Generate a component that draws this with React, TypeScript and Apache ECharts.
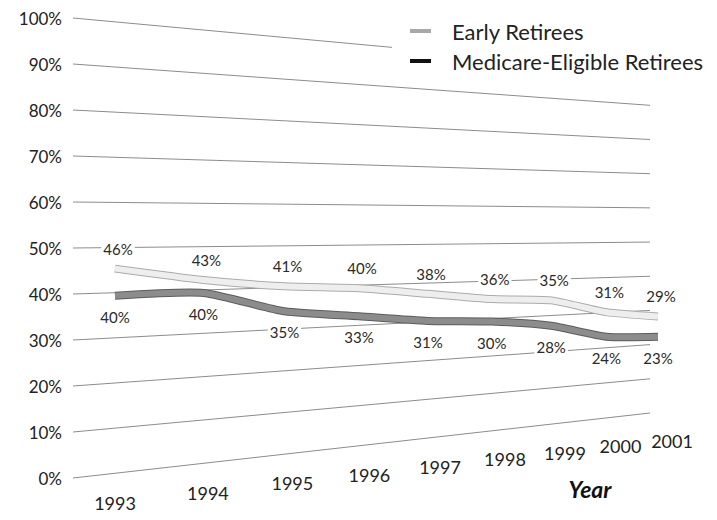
import React, { useEffect, useRef } from 'react';
import * as echarts from 'echarts';

const years = ['1993', '1994', '1995', '1996', '1997', '1998', '1999', '2000', '2001'];
const earlyRetirees = [46, 43, 41, 40, 38, 36, 35, 31, 29];
const medicareEligible = [40, 40, 35, 33, 31, 30, 28, 24, 23];
const yTicks = [0, 10, 20, 30, 40, 50, 60, 70, 80, 90, 100];

const FONT = 'Lato, "Open Sans", "DejaVu Sans", sans-serif';
const X_MIN = -0.45;
const X_MAX = 7.84;
const GRID = { left: 73, top: 18, width: 577, height: 460 };

// perspective helpers (the flat cartesian grid is seen in perspective, receding to the right)
function uFromFlat(fx: number) {
  const t = (fx - GRID.left) / GRID.width;
  return (X_MIN + t * (X_MAX - X_MIN)) / (years.length - 1);
}
function projX(u: number, x0: number, a: number, k: number) {
  return (x0 + a * u) / (1 + k * u);
}
function projY(sx: number, fy: number, fy0: number) {
  const d = sx - GRID.left;
  return fy0 - 0.11265 * d - (fy0 - fy) * (1 - 0.000445 * d);
}
const DATA_P = [115, 780.5, 0.361];
const LABEL_P = [115, 826.5, 0.401];

function makeLineSeries(
  name: string,
  values: number[],
  legendColor: string,
  outer: string,
  inner: string,
  labelDy: number,
  labelDx: number
) {
  const pts: number[][] = [];
  return {
    type: 'custom',
    name,
    coordinateSystem: 'cartesian2d',
    clip: false,
    z: 3,
    itemStyle: { color: legendColor },
    data: values.map((v, i) => [i, v]),
    renderItem: (params: any, api: any) => {
      const i = params.dataIndex;
      const p = api.coord([api.value(0), api.value(1)]);
      const fy0 = api.coord([0, 0])[1];
      const sx = projX(uFromFlat(p[0]), DATA_P[0], DATA_P[1], DATA_P[2]);
      const sy = projY(sx, p[1], fy0) + 3;
      pts[i] = [sx, sy];
      const children: any[] = [
        {
          type: 'text',
          x: sx + labelDx,
          y: sy + labelDy,
          z2: 10,
          style: {
            text: api.value(1) + '%',
            fill: '#2a2a2a',
            fontSize: 15,
            fontFamily: FONT,
            align: 'center',
            verticalAlign: 'middle',
            backgroundColor: '#fff',
            padding: [0, 2],
          },
        },
      ];
      if (i === values.length - 1) {
        const line = pts.slice(0, values.length);
        children.unshift(
          {
            type: 'polyline',
            shape: { points: line, smooth: 0.2 },
            style: { stroke: outer, lineWidth: 8, fill: null, lineCap: 'butt' },
          },
          {
            type: 'polyline',
            shape: { points: line, smooth: 0.2 },
            style: { stroke: inner, lineWidth: 6, fill: null, lineCap: 'butt' },
          }
        );
      }
      return { type: 'group', children };
    },
  };
}

export default function App() {
  const ref = useRef<HTMLDivElement>(null);
  useEffect(() => {
    if (!ref.current) return;
    const chart = echarts.init(ref.current, undefined, { renderer: 'svg' });
    chart.setOption({
      animation: false,
      backgroundColor: '#fff',
      grid: { left: GRID.left, top: GRID.top, width: GRID.width, height: GRID.height },
      xAxis: { type: 'value', min: X_MIN, max: X_MAX, show: false },
      yAxis: {
        type: 'value',
        min: 0,
        max: 100,
        interval: 10,
        axisLine: { show: false },
        axisTick: { show: false },
        splitLine: { show: false },
        axisLabel: {
          formatter: '{value}%',
          fontSize: 17,
          fontFamily: FONT,
          color: '#222',
          margin: 11,
        },
      },
      legend: {
        data: ['Early Retirees', 'Medicare-Eligible Retirees'],
        orient: 'vertical',
        left: 392,
        top: 14,
        itemWidth: 21,
        itemHeight: 4,
        itemGap: 8,
        icon: 'rect',
        backgroundColor: '#fff',
        padding: [6, 4, 6, 18],
        textStyle: { fontSize: 22, fontFamily: FONT, color: '#222', padding: [0, 0, 0, 16] },
      },
      graphic: [
        {
          type: 'text',
          x: 590,
          y: 489,
          style: {
            text: 'Year',
            fontSize: 23,
            fontWeight: 'bold',
            fontStyle: 'italic',
            fontFamily: FONT,
            fill: '#111',
            align: 'center',
            verticalAlign: 'middle',
          },
        },
      ],
      series: [
        {
          type: 'custom',
          name: 'grid',
          coordinateSystem: 'cartesian2d',
          clip: false,
          silent: true,
          z: 1,
          data: yTicks.map((v) => [X_MIN, v]),
          renderItem: (params: any, api: any) => {
            const v = api.value(1);
            const a = api.coord([X_MIN, v]);
            const b = api.coord([X_MAX, v]);
            const fy0 = api.coord([X_MIN, 0])[1];
            const ax = a[0];
            const bx = b[0];
            const ay = projY(ax, a[1], fy0);
            const by = projY(bx, b[1], fy0);
            return {
              type: 'line',
              shape: { x1: ax, y1: ay, x2: bx, y2: by },
              style: { stroke: '#8c8c8c', lineWidth: 1 },
            };
          },
        },
        {
          type: 'custom',
          name: 'years',
          coordinateSystem: 'cartesian2d',
          clip: false,
          silent: true,
          z: 2,
          data: years.map((y, i) => [i, 0]),
          renderItem: (params: any, api: any) => {
            const p = api.coord([api.value(0), api.value(1)]);
            const sx = projX(uFromFlat(p[0]), LABEL_P[0], LABEL_P[1], LABEL_P[2]);
            const sy = projY(sx, p[1], p[1]) + 30;
            return {
              type: 'text',
              x: sx,
              y: sy,
              style: {
                text: years[params.dataIndex],
                fontSize: 18,
                fontFamily: FONT,
                fill: '#222',
                align: 'center',
                verticalAlign: 'middle',
              },
            };
          },
        },
        makeLineSeries('Early Retirees', earlyRetirees, '#a8a8a8', '#ababab', '#eeeeee', -20, 3),
        makeLineSeries('Medicare-Eligible Retirees', medicareEligible, '#111', '#5c5c5c', '#8c8c8c', 21, 0),
      ],
    });
    return () => chart.dispose();
  }, []);
  return (
    <div
      ref={ref}
      style={{ position: 'fixed', left: 0, top: 0, width: 717, height: 520, background: '#fff' }}
    />
  );
}
